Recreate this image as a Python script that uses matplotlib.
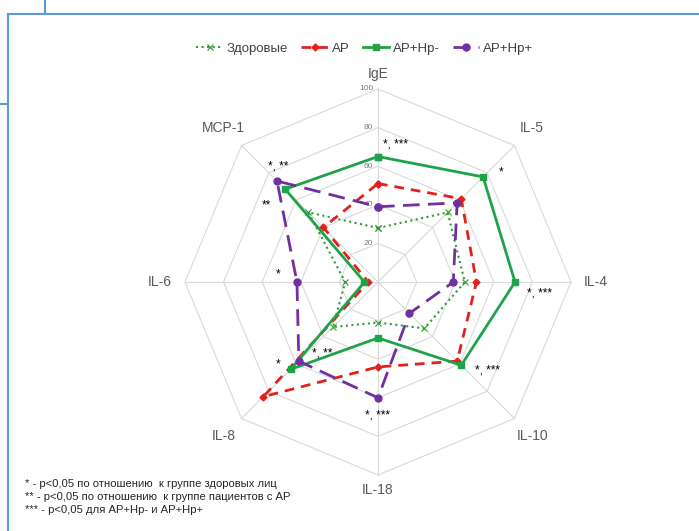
import numpy as np
import matplotlib
matplotlib.use("Agg")
import matplotlib.pyplot as plt
from matplotlib.lines import Line2D

plt.rcParams['font.family'] = ['Liberation Sans', 'DejaVu Sans']

# axes of the radar, clockwise from top
axes_names = ["IgE", "IL-5", "IL-4", "IL-10", "IL-18", "IL-8", "IL-6", "MCP-1"]
ticks = [20, 40, 60, 80, 100]

healthy = [28, 51, 45, 34, 21, 33, 17, 51]
ar = [51, 61, 51, 58, 44, 84, 5, 40]
ar_hp_neg = [65, 77, 71, 61, 29, 64, 7, 68]
ar_hp_pos = [39, 58, 39, 23, 60, 58, 42, 74]

series_names = ["Здоровые", "АР", "АР+Нр-", "АР+Нр+"]

footnotes = [
    "* - p<0,05 по отношению  к группе здоровых лиц",
    "** - p<0,05 по отношению  к группе пациентов с АР",
    "*** - p<0,05 для АР+Нр- и АР+Нр+",
]

W, H = 699, 531
fig = plt.figure(figsize=(W / 100, H / 100), dpi=100)
ax = fig.add_axes([0, 0, 1, 1])
cx, cy, scale = 378, 282, 1.93
ax.set_xlim(-cx / scale, (W - cx) / scale)
ax.set_ylim(-(H - cy) / scale, cy / scale)
ax.axis("off")

n = len(axes_names)
ang = np.pi / 2 - np.arange(n) * 2 * np.pi / n
ang_c = np.append(ang, ang[0])


def xy(vals):
    v = np.append(vals, vals[0])
    return v * np.cos(ang_c), v * np.sin(ang_c)


grid_col = "#d9d9d9"
for t in ticks:
    gx, gy = xy(np.full(n, t))
    ax.plot(gx, gy, color=grid_col, lw=0.8, zorder=1)
for a in ang:
    ax.plot([0, 100 * np.cos(a)], [0, 100 * np.sin(a)], color=grid_col, lw=0.8, zorder=1)

for t in ticks:
    ax.text(-2.5, t, str(t), ha="right", va="center", fontsize=6, color="#7f7f7f")

for name, a in zip(axes_names, ang):
    r = 108 if name in ("IgE", "IL-18") else 113
    ax.text(r * np.cos(a), r * np.sin(a), name, ha="center", va="center",
            fontsize=10, color="#595959")

styles = [
    dict(color="#339933", ls=":", lw=1.5, marker="x", ms=4, mew=0.8),
    dict(color="#e3211c", ls=(0, (3.5, 2.5)), lw=2, marker="D", ms=3.5),
    dict(color="#1fa34a", ls="-", lw=2, marker="s", ms=5),
    dict(color="#7030a0", ls=(0, (6, 3)), lw=2, marker="o", ms=5),
]
handles = []
for vals, st, lab in zip([healthy, ar, ar_hp_neg, ar_hp_pos], styles, series_names):
    lx, ly = xy(vals)
    h, = ax.plot(lx, ly, label=lab, zorder=3, **st)
    handles.append(h)

fig.legend(handles=handles, loc="center", bbox_to_anchor=(365 / W, 1 - 49 / H),
           ncol=4, frameon=False, fontsize=9.5, handlelength=2.0,
           columnspacing=1.0, handletextpad=0.3, labelcolor="#404040")

# significance stars (position in data units)
stars = [
    (2.6, 71, "*, ***"),
    (62.7, 57, "*"),
    (77.2, -5.7, "*, ***"),
    (50.3, -46, "*, ***"),
    (-6.7, -69, "*, ***"),
    (-53, -42.5, "*"),
    (-34.2, -36.8, "*, **"),
    (-53, 4.1, "*"),
    (-57, 59.6, "*, **"),
    (-60, 39.9, "**"),
]
for sx, sy, s in stars:
    ax.text(sx, sy, s, ha="left", va="center", fontsize=8.5, color="black")

for i, line in enumerate(footnotes):
    fig.text(25 / W, 1 - (484 + 13 * i) / H, line, ha="left", va="center",
             fontsize=8.1, color="#262626")

# frame lines of the surrounding document
blue = "#5b9bd5"
for (x0, y0, x1, y1) in [(8, 14, W, 14), (8, 14, 8, H), (45, 0, 45, 14), (0, 104, 8, 104)]:
    fig.add_artist(Line2D([x0 / W, x1 / W], [1 - y0 / H, 1 - y1 / H],
                          color=blue, lw=1.5, transform=fig.transFigure))

fig.savefig("out.png", dpi=100, facecolor="white")
